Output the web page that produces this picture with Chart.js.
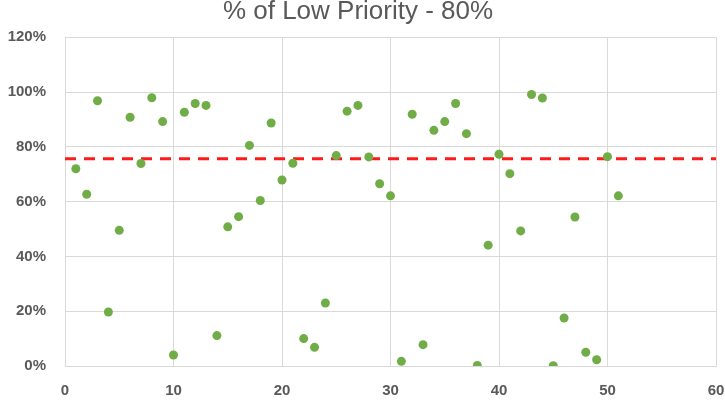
<!DOCTYPE html>
<html>
<head>
<meta charset="utf-8">
<script src="https://cdn.jsdelivr.net/npm/chart.js@4/dist/chart.umd.min.js"></script>
<style>
  html, body { margin: 0; padding: 0; background: #fff; }
  #wrap { width: 725px; height: 418px; }
</style>
</head>
<body>
<div id="wrap"><canvas id="chart"></canvas></div>
<script>
// Sample numbers 1..51 and the % of low priority for each
const samples = [
  1, 2, 3, 4, 5, 6, 7, 8, 9, 10,
  11, 12, 13, 14, 15, 16, 17, 18, 19, 20,
  21, 22, 23, 24, 25, 26, 27, 28, 29, 30,
  31, 32, 33, 34, 35, 36, 37, 38, 39, 40,
  41, 42, 43, 44, 45, 46, 47, 48, 49, 50, 51
];
const lowPriority = [
  72, 62.7, 96.8, 19.7, 49.5, 90.8, 73.9, 97.9, 89.2, 4,
  92.6, 95.8, 95.1, 11.1, 50.8, 54.5, 80.5, 60.4, 88.7, 67.9,
  74, 10, 6.8, 23, 76.8, 93, 95.1, 76.3, 66.5, 62.1,
  1.7, 91.9, 7.8, 86, 89.2, 95.8, 84.8, 0.2, 44.1, 77.3,
  70.2, 49.3, 99.1, 97.8, 0.1, 17.5, 54.4, 5, 2.3, 76.4, 62.1
];
const threshold = 75.6;
const thresholdX = [0, 60];

const xTicks = { min: 0, max: 60, step: 10 };
const yTicks = { min: 0, max: 120, step: 20 };

const tickFont = { family: "'Liberation Sans', Arial, sans-serif", size: 15, weight: "bold" };

new Chart(document.getElementById("chart"), {
  type: "scatter",
  data: {
    datasets: [
      {
        label: "% of Low Priority",
        data: samples.map((s, i) => ({ x: s, y: lowPriority[i] })),
        backgroundColor: "#70ad47",
        borderWidth: 0,
        pointRadius: 4.5,
        pointHoverRadius: 4.5,
        order: 1,
      },
      {
        label: "Average",
        type: "line",
        data: thresholdX.map((x) => ({ x: x, y: threshold })),
        borderColor: "#ff1a1a",
        borderWidth: 3,
        borderDash: [11, 8],
        pointRadius: 0,
        fill: false,
        order: 2,
      },
    ],
  },
  options: {
    responsive: true,
    maintainAspectRatio: false,
    animation: false,
    layout: { padding: { left: 0, right: 9, top: 0, bottom: 0 } },
    plugins: {
      legend: { display: false },
      tooltip: { enabled: false },
      title: {
        display: true,
        text: "% of Low Priority - 80%",
        color: "#595959",
        font: { family: "'Liberation Sans', Arial, sans-serif", size: 26, weight: "normal", lineHeight: 1.2 },
        padding: { top: -4, bottom: 10 },
      },
    },
    scales: {
      x: {
        type: "linear",
        min: xTicks.min,
        max: xTicks.max,
        ticks: {
          stepSize: xTicks.step,
          color: "#595959",
          font: tickFont,
          padding: 16,
        },
        grid: { color: "#d9d9d9", drawTicks: false },
        border: { color: "#d9d9d9" },
        afterFit: (scale) => {
          scale.height = 52;
          // tick padding would otherwise widen the right gap
          scale.paddingRight = 0;
          scale.paddingLeft = 0;
        },
      },
      y: {
        min: yTicks.min,
        max: yTicks.max,
        ticks: {
          stepSize: yTicks.step,
          color: "#595959",
          font: tickFont,
          padding: 19,
          callback: (v) => v + "%",
        },
        grid: { color: "#d9d9d9", drawTicks: false },
        border: { color: "#d9d9d9" },
        afterFit: (scale) => { scale.width = 65; },
      },
    },
  },
});
</script>
</body>
</html>
